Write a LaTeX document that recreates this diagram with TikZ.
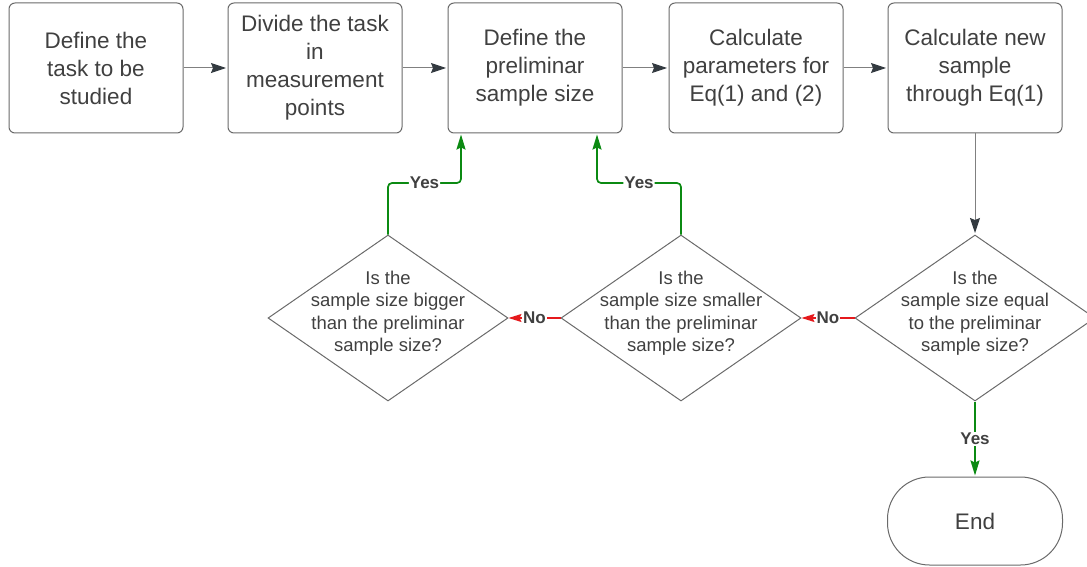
\documentclass[tikz,border=0pt]{standalone}
\usepackage{fontspec}
\setmainfont{Liberation Sans}
\usetikzlibrary{shapes.geometric,arrows.meta,calc}
\definecolor{txt}{HTML}{404040}
\definecolor{bord}{HTML}{6A6A6A}
\definecolor{lin}{HTML}{808080}
\definecolor{tipc}{HTML}{333A40}
\definecolor{ygreen}{HTML}{0B8A12}
\definecolor{nred}{HTML}{E5191C}
\tikzset{
  box/.style={draw=bord, line width=1pt, rounded corners=6pt, minimum width=174pt, minimum height=130pt, align=center, text=txt, font=\fontsize{22.5}{28}\selectfont, inner sep=0pt},
  dia/.style={diamond, draw=bord, line width=1pt, minimum width=240pt, minimum height=166pt, inner sep=0pt},
  dtext/.style={align=center, text=txt, font=\fontsize{18.5}{22.5}\selectfont, inner sep=0pt},
  term/.style={draw=bord, line width=1pt, rounded corners=42pt, minimum width=175pt, minimum height=88pt, text=txt, font=\fontsize{22.5}{28}\selectfont},
  arr/.style={draw=lin, line width=1pt, shorten >=1.5pt, -{Stealth[length=15pt,width=10pt,inset=2pt,color=tipc]}},
  yesline/.style={draw=ygreen, line width=1.7pt, rounded corners=4pt, shorten >=1pt, -{Stealth[length=15pt,width=9pt,inset=2pt]}},
  noline/.style={draw=nred, line width=1.2pt, -{Stealth[length=13pt,width=8pt,inset=2pt]}},
  lbl/.style={fill=white, text=txt, font=\bfseries\fontsize{17}{20}\selectfont, inner sep=1pt},
}
\begin{document}
\begin{tikzpicture}[x=1pt,y=-1pt]
\useasboundingbox (0,0) rectangle (1087,567);
\node[box] (b1) at (96,68) {Define the\\task to be\\studied};
\node[box] (b2) at (315,68) {Divide the task\\in\\measurement\\points};
\node[box] (b3) at (535,68) {Define the\\preliminar\\sample size};
\node[box] (b4) at (756,68) {Calculate\\parameters for\\Eq(1) and (2)};
\node[box] (b5) at (975,68) {Calculate new\\sample\\through Eq(1)};

\node[dia] (d1) at (388,318) {};
\node[dia] (d2) at (681,318) {};
\node[dia] (d3) at (975,318) {};
\node[dtext] (t1) at (388,313) {Is the\\sample size bigger\\than the preliminar\\sample size?};
\node[dtext] (t2) at (681,313) {Is the\\sample size smaller\\than the preliminar\\sample size?};
\node[dtext] (t3) at (975,313) {Is the\\sample size equal\\to the preliminar\\sample size?};

\node[term] (end) at (975,521) {End};

\coordinate (y1) at (461,183);
\coordinate (y2) at (597,183);

\draw[arr] (b1.east) -- (b2.west);
\draw[arr] (b2.east) -- (b3.west);
\draw[arr] (b3.east) -- (b4.west);
\draw[arr] (b4.east) -- (b5.west);
\draw[arr] (b5.south) -- (d3.north);

\draw[yesline] (d1.north) -- (d1.north |- y1) -- node[lbl]{Yes} (y1) -- (y1 |- b3.south);
\draw[yesline] (d2.north) -- (d2.north |- y2) -- node[lbl]{Yes} (y2) -- (y2 |- b3.south);
\draw[yesline] (d3.south) -- node[lbl]{Yes} (end.north);

\draw[noline] (d3.west) -- node[lbl]{No} (d2.east);
\draw[noline] (d2.west) -- node[lbl]{No} (d1.east);
\end{tikzpicture}
\end{document}
